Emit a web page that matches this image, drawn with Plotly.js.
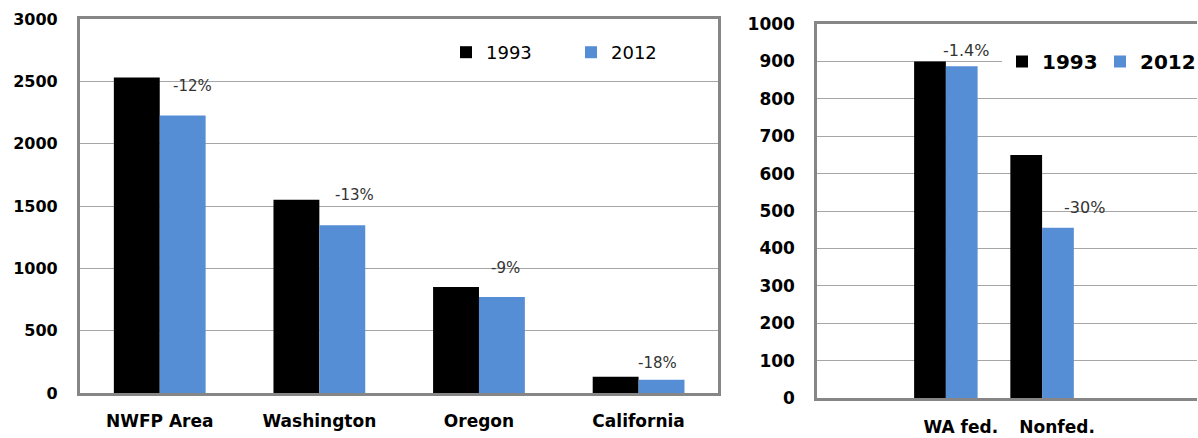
<!DOCTYPE html>
<html><head><meta charset="utf-8">
<script src="https://cdn.plot.ly/plotly-3.0.1.min.js"></script>
<style>html,body{margin:0;padding:0;background:#fff;}#chart{width:1198px;height:438px;}</style>
</head><body><div id="chart"></div>
<script>
// ---- data ----
const regions = ['NWFP Area', 'Washington', 'Oregon', 'California'];
const regions1993 = [2530, 1550, 850, 130];
const regions2012 = [2225, 1345, 770, 107];
const regionChange = ['-12%', '-13%', '-9%', '-18%'];

const owners = ['WA fed.', 'Nonfed.'];
const owners1993 = [900, 650];
const owners2012 = [887, 455];
const ownerChange = ['-1.4%', '-30%'];

const seriesNames = ['1993', '2012'];

// ---- style / placement ----
const W = 1198, H = 438;
const BLACK = '#000000', BLUE = '#558ed5', FRAME = '#868686', GRID = '#a6a6a6';
const FONT = 'DejaVu Sans';
const regionNoteShift = [[11, -8], [14, 5], [10, 19], [-3, 14]];
const ownerNoteShift = [[-5, 11], [20, -53]];
const wL = 0.2875, wR = 0.33;

const traces = [
  {type: 'bar', x: regions, y: regions1993, name: seriesNames[0], marker: {color: BLACK},
   offset: -wL, width: wL, xaxis: 'x', yaxis: 'y', legend: 'legend', hoverinfo: 'skip'},
  {type: 'bar', x: regions, y: regions2012, name: seriesNames[1], marker: {color: BLUE},
   offset: 0, width: wL, xaxis: 'x', yaxis: 'y', legend: 'legend', hoverinfo: 'skip'},
  {type: 'bar', x: owners, y: owners1993, name: seriesNames[0], marker: {color: BLACK},
   offset: -wR, width: wR, xaxis: 'x2', yaxis: 'y2', legend: 'legend2', hoverinfo: 'skip'},
  {type: 'bar', x: owners, y: owners2012, name: seriesNames[1], marker: {color: BLUE},
   offset: 0, width: wR, xaxis: 'x2', yaxis: 'y2', legend: 'legend2', hoverinfo: 'skip'}
];

const annotations = [];
regions.forEach((c, i) => annotations.push({
  xref: 'x', yref: 'y', x: c, y: regions1993[i], text: regionChange[i],
  xanchor: 'left', yanchor: 'middle', xshift: regionNoteShift[i][0], yshift: regionNoteShift[i][1],
  showarrow: false, font: {family: FONT, size: 15, color: '#333333'}
}));
owners.forEach((c, i) => annotations.push({
  xref: 'x2', yref: 'y2', x: c, y: owners1993[i], text: ownerChange[i],
  xanchor: 'left', yanchor: 'middle', xshift: ownerNoteShift[i][0], yshift: ownerNoteShift[i][1],
  showarrow: false, font: {family: FONT, size: 16, color: '#333333'}
}));

const tickBold = (s) => ({family: FONT, size: s, color: '#000000', weight: 'bold'});

const layout = {
  width: W, height: H,
  margin: {l: 0, r: 0, t: 0, b: 0},
  paper_bgcolor: '#ffffff', plot_bgcolor: '#ffffff',
  barmode: 'group',
  showlegend: true,
  xaxis: {
    domain: [80 / W, 719 / W], type: 'category', range: [-0.5, 3.5],
    showline: true, linecolor: FRAME, linewidth: 3, mirror: true,
    ticks: '', showgrid: false, zeroline: false, tickfont: tickBold(17),
    ticklabelstandoff: 11, fixedrange: true
  },
  yaxis: {
    domain: [(H - 393) / H, (H - 19) / H], range: [0, 3000], dtick: 500,
    showline: true, linecolor: FRAME, linewidth: 3, mirror: true,
    showgrid: true, gridcolor: GRID, gridwidth: 1, zeroline: false,
    ticks: '', tickfont: tickBold(16), ticklabelstandoff: 16, fixedrange: true
  },
  xaxis2: {
    domain: [818 / W, 1], type: 'category', range: [-1.336, 2.61], anchor: 'y2',
    showline: true, linecolor: FRAME, linewidth: 3, mirror: true,
    ticks: '', showgrid: false, zeroline: false, tickfont: tickBold(17),
    ticklabelstandoff: 12, ticklabelshift: 15, fixedrange: true
  },
  yaxis2: {
    domain: [(H - 398) / H, (H - 24) / H], range: [0, 1000], dtick: 100, anchor: 'x2',
    showline: true, linecolor: FRAME, linewidth: 3, mirror: false,
    showgrid: true, gridcolor: GRID, gridwidth: 1, zeroline: false,
    ticks: '', tickfont: tickBold(17), ticklabelstandoff: 16, fixedrange: true
  },
  legend: {
    orientation: 'h', x: 446 / W, xanchor: 'left', y: (H - 34) / H, yanchor: 'top',
    font: {family: FONT, size: 18, color: '#000000'}, bgcolor: 'rgba(0,0,0,0)', borderwidth: 0,
    entrywidth: 80, entrywidthmode: 'pixels', traceorder: 'normal'
  },
  legend2: {
    orientation: 'h', x: 1003 / W, xanchor: 'left', y: (H - 42) / H, yanchor: 'top',
    font: {family: FONT, size: 20, color: '#000000', weight: 'bold'}, bgcolor: '#ffffff', borderwidth: 0,
    entrywidth: 53, entrywidthmode: 'pixels', traceorder: 'normal'
  },
  annotations: annotations
};

Plotly.newPlot('chart', traces, layout, {displayModeBar: false, staticPlot: true});
</script>
</body></html>
